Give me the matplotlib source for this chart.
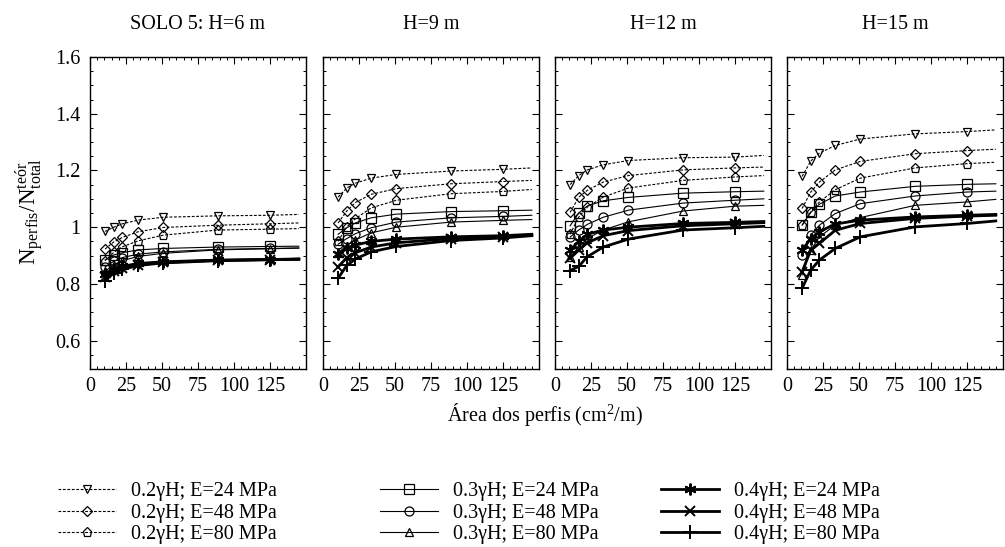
import matplotlib
matplotlib.use("Agg")
import matplotlib.pyplot as plt
from matplotlib.lines import Line2D
from matplotlib.ticker import MultipleLocator

plt.rcParams['font.family'] = ['Liberation Serif', 'DejaVu Serif']
plt.rcParams['mathtext.fontset'] = 'custom'
plt.rcParams['mathtext.rm'] = 'Liberation Serif'
plt.rcParams['mathtext.it'] = 'Liberation Serif:italic'

# ---------------- data ----------------
titles = ["SOLO 5: H=6 m", "H=9 m", "H=12 m", "H=15 m"]
x_area = [10.5, 16.5, 22.5, 33.5, 51, 89, 125, 145]   # last value: end of curve (no marker)
n_marked = 7

series_labels = [
    "0.2γH; E=24 MPa", "0.2γH; E=48 MPa", "0.2γH; E=80 MPa",
    "0.3γH; E=24 MPa", "0.3γH; E=48 MPa", "0.3γH; E=80 MPa",
    "0.4γH; E=24 MPa", "0.4γH; E=48 MPa", "0.4γH; E=80 MPa",
]

vals_H6 = [
    [0.985, 1.000, 1.012, 1.025, 1.035, 1.040, 1.042, 1.045],
    [0.923, 0.948, 0.964, 0.984, 0.999, 1.007, 1.012, 1.015],
    [0.882, 0.911, 0.931, 0.952, 0.972, 0.990, 0.993, 0.995],
    [0.885, 0.902, 0.910, 0.920, 0.925, 0.930, 0.932, 0.933],
    [0.860, 0.880, 0.893, 0.905, 0.913, 0.922, 0.925, 0.927],
    [0.845, 0.868, 0.882, 0.897, 0.908, 0.920, 0.924, 0.926],
    [0.835, 0.852, 0.862, 0.872, 0.878, 0.884, 0.886, 0.888],
    [0.825, 0.845, 0.856, 0.868, 0.876, 0.883, 0.886, 0.887],
    [0.812, 0.838, 0.851, 0.865, 0.874, 0.882, 0.885, 0.887],
]
vals_H9 = [
    [1.106, 1.138, 1.155, 1.173, 1.186, 1.198, 1.204, 1.209],
    [1.015, 1.057, 1.087, 1.116, 1.136, 1.153, 1.161, 1.165],
    [0.950, 1.001, 1.030, 1.068, 1.095, 1.118, 1.126, 1.133],
    [0.975, 0.998, 1.015, 1.033, 1.046, 1.055, 1.058, 1.060],
    [0.940, 0.960, 0.977, 0.998, 1.018, 1.033, 1.038, 1.042],
    [0.910, 0.935, 0.955, 0.980, 1.000, 1.018, 1.024, 1.027],
    [0.905, 0.925, 0.937, 0.950, 0.958, 0.966, 0.970, 0.975],
    [0.860, 0.893, 0.910, 0.930, 0.945, 0.960, 0.967, 0.972],
    [0.820, 0.865, 0.888, 0.913, 0.932, 0.953, 0.962, 0.970],
]
vals_H12 = [
    [1.150, 1.182, 1.202, 1.220, 1.235, 1.245, 1.247, 1.253],
    [1.052, 1.106, 1.130, 1.159, 1.182, 1.202, 1.209, 1.212],
    [0.975, 1.036, 1.071, 1.106, 1.138, 1.165, 1.177, 1.182],
    [1.005, 1.050, 1.075, 1.093, 1.105, 1.120, 1.125, 1.127],
    [0.965, 0.990, 1.010, 1.035, 1.060, 1.085, 1.095, 1.100],
    [0.895, 0.930, 0.960, 0.990, 1.019, 1.057, 1.074, 1.077],
    [0.920, 0.950, 0.975, 0.990, 1.000, 1.013, 1.017, 1.020],
    [0.890, 0.920, 0.945, 0.970, 0.988, 1.005, 1.012, 1.016],
    [0.847, 0.862, 0.896, 0.930, 0.958, 0.990, 0.998, 1.003],
]
vals_H15 = [
    [1.179, 1.233, 1.261, 1.288, 1.311, 1.329, 1.337, 1.343],
    [1.066, 1.124, 1.159, 1.202, 1.232, 1.259, 1.270, 1.275],
    [1.007, 1.054, 1.089, 1.132, 1.173, 1.209, 1.224, 1.229],
    [1.007, 1.052, 1.081, 1.110, 1.124, 1.144, 1.151, 1.153],
    [0.902, 0.972, 1.007, 1.048, 1.083, 1.110, 1.124, 1.127],
    [0.832, 0.919, 0.966, 1.007, 1.034, 1.077, 1.089, 1.098],
    [0.919, 0.960, 0.984, 1.011, 1.025, 1.036, 1.042, 1.045],
    [0.843, 0.919, 0.943, 0.989, 1.013, 1.031, 1.039, 1.042],
    [0.785, 0.849, 0.884, 0.925, 0.966, 1.001, 1.013, 1.022],
]
panel_values = [vals_H6, vals_H9, vals_H12, vals_H15]

# ---------------- styles ----------------
asterisk = (6, 2, 0)
markers = ['v', 'D', 'p', 's', 'o', '^', asterisk, 'x', '+']
msizes = [6, 5, 6.5, 6.5, 6.5, 6, 8.5, 7.5, 9.5]
dash = (0, (2.5, 1.5))
lstyles = [dash, dash, dash, '-', '-', '-', '-', '-', '-']
lwidths = [0.8, 0.8, 0.8, 0.8, 0.8, 0.8, 2.0, 2.0, 2.0]
mew = [0.9, 0.9, 0.9, 0.9, 0.9, 0.9, 1.4, 1.4, 1.4]

W, H = 1005, 547
fig = plt.figure(figsize=(W / 100, H / 100), dpi=100)

lefts = [90, 323, 555, 787]
pw = 216
top, bottom = 57, 369
fs = 14.5

for k, (left, title, vals) in enumerate(zip(lefts, titles, panel_values)):
    ax = fig.add_axes([left / W, 1 - bottom / H, pw / W, (bottom - top) / H])
    for i, v in enumerate(vals):
        ax.plot(x_area, v, color='black', linestyle=lstyles[i], linewidth=lwidths[i],
                marker=markers[i], markersize=msizes[i], markeredgewidth=mew[i],
                fillstyle='none', markevery=list(range(n_marked)))
    ax.set_xlim(0, 150)
    ax.set_ylim(0.5, 1.6)
    ax.xaxis.set_major_locator(MultipleLocator(25))
    ax.xaxis.set_minor_locator(MultipleLocator(5))
    ax.yaxis.set_major_locator(MultipleLocator(0.2))
    ax.yaxis.set_minor_locator(MultipleLocator(0.05))
    ax.set_xticks([0, 25, 50, 75, 100, 125])
    ax.set_xticklabels(["0", "25", "50", "75", "100", "125"])
    ax.tick_params(which='both', direction='in', top=True, right=True, labelsize=fs)
    ax.tick_params(axis='x', pad=6)
    ax.tick_params(axis='y', pad=7)
    ax.tick_params(which='major', length=5, width=0.8)
    ax.tick_params(which='minor', length=2.5, width=0.7)
    for s in ax.spines.values():
        s.set_linewidth(1.0)
    if k == 0:
        ax.set_yticks([0.6, 0.8, 1.0, 1.2, 1.4, 1.6])
        ax.set_yticklabels(["0.6", "0.8", "1", "1.2", "1.4", "1.6"])
    else:
        ax.tick_params(labelleft=False)
    ax.set_title(title, fontsize=fs, pad=20)

fig.text(30 / W, 1 - 212 / H, r"N$_{\rm perfis}$/N$_{\rm total}^{\rm teór}$",
         rotation=90, ha='center', va='center', fontsize=16.5)
fig.text(545 / W, 1 - 415 / H, r"Área dos perfis (cm$^2$/m)",
         ha='center', va='center', fontsize=fs)

# ---------------- legends ----------------
handles = []
for i in range(9):
    handles.append(Line2D([], [], color='black', linestyle=lstyles[i], linewidth=lwidths[i],
                          marker=markers[i], markersize=msizes[i], markeredgewidth=mew[i],
                          fillstyle='none'))
leg_x = [58, 380, 661]
for c in range(3):
    leg = fig.legend(handles[3 * c:3 * c + 3], series_labels[3 * c:3 * c + 3],
                     loc='upper left', bbox_to_anchor=(leg_x[c] / W, 1 - 482 / H),
                     frameon=False, fontsize=14.5, handlelength=2.9, handletextpad=0.72,
                     labelspacing=0.12, borderpad=0, borderaxespad=0)

fig.savefig("out.png", dpi=100)
